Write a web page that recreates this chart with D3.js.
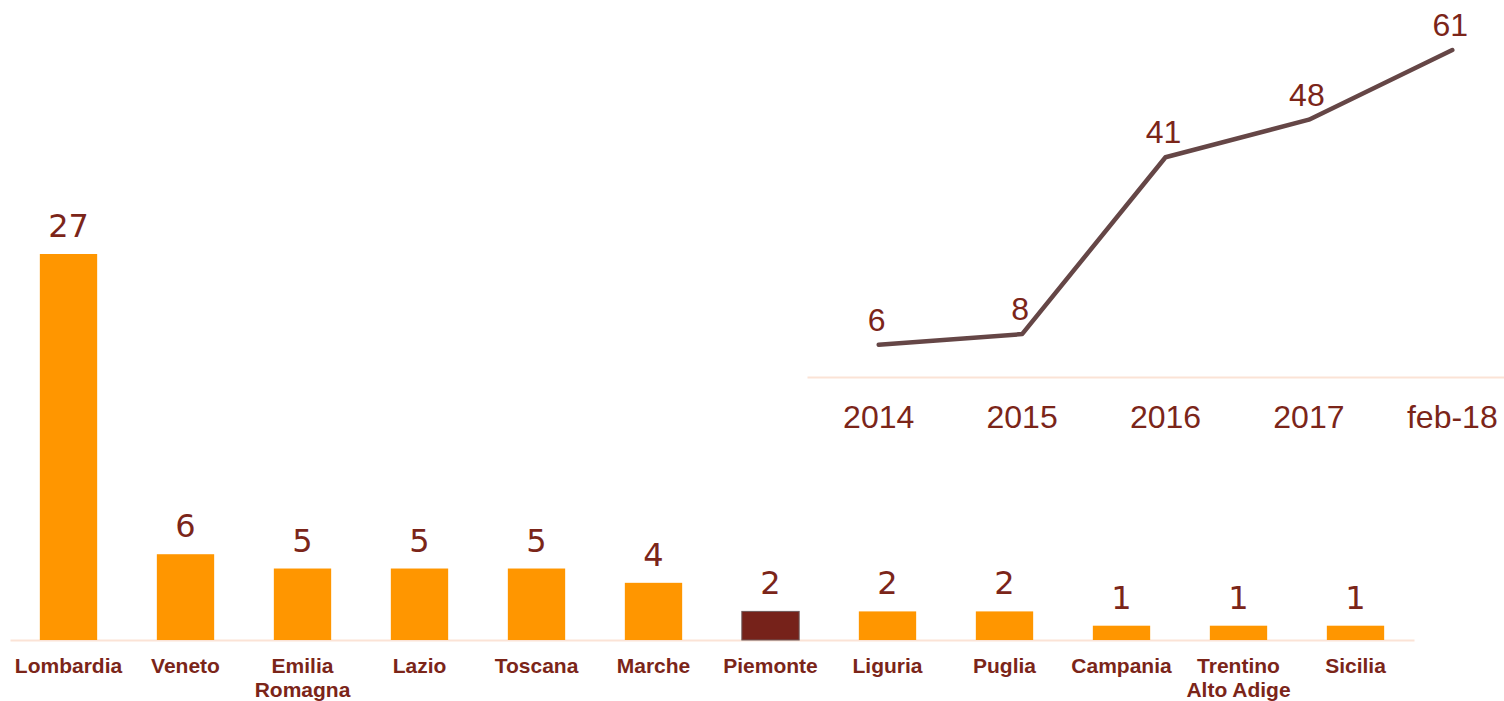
<!DOCTYPE html>
<html>
<head>
<meta charset="utf-8">
<script src="https://cdn.jsdelivr.net/npm/d3@7"></script>
<style>
  html, body { margin: 0; padding: 0; background: #ffffff; }
  svg { display: block; }
</style>
</head>
<body>
<svg id="chart" width="1504" height="701"></svg>
<script>
// ---- Data ----
const regions = ["Lombardia", "Veneto", "Emilia|Romagna", "Lazio", "Toscana", "Marche",
                 "Piemonte", "Liguria", "Puglia", "Campania", "Trentino|Alto Adige", "Sicilia"];
const regionValues = [27, 6, 5, 5, 5, 4, 2, 2, 2, 1, 1, 1];
const highlightRegion = "Piemonte";

const periods = ["2014", "2015", "2016", "2017", "feb-18"];
const periodValues = [6, 8, 41, 48, 61];

// ---- Styles ----
const ORANGE = "#ff9600";
const DARK = "#76221a";
const TEXT = "#7b2519";
const AXIS = "#fbe3d6";
const LINE = "#654646";

const svg = d3.select("#chart");

// ---- Bar chart ----
const xBar = d3.scaleBand().domain(regions).range([10, 1414])
  .paddingInner(0.51).paddingOuter(0.255);
const yBar = d3.scaleLinear().domain([0, 27]).range([640, 254]);

const barAxis = svg.append("g")
  .attr("transform", "translate(0,640)")
  .call(d3.axisBottom(xBar).tickSize(0).tickSizeOuter(0).tickPadding(18));
barAxis.select(".domain").attr("stroke", AXIS).attr("stroke-width", 2);
barAxis.selectAll(".tick text")
  .attr("fill", TEXT)
  .style("font-family", "Liberation Sans, Arial, sans-serif")
  .style("font-weight", "bold")
  .style("font-size", "21px")
  .each(function(d) {
    const t = d3.select(this);
    const parts = d.split("|");
    t.text(null);
    parts.forEach((p, i) => {
      t.append("tspan").attr("x", 0).attr("dy", i === 0 ? "0.71em" : "1.13em").text(p);
    });
  })
  .attr("dy", null);

svg.append("g").selectAll("rect")
  .data(regions)
  .join("rect")
  .attr("x", d => xBar(d))
  .attr("width", xBar.bandwidth())
  .attr("y", (d, i) => yBar(regionValues[i]))
  .attr("height", (d, i) => yBar(0) - yBar(regionValues[i]))
  .attr("fill", d => d === highlightRegion ? DARK : ORANGE)
  .attr("stroke", d => d === highlightRegion ? "#6e5a5a" : "none")
  .attr("stroke-width", 1);

svg.append("g").selectAll("text")
  .data(regions)
  .join("text")
  .attr("x", d => xBar(d) + xBar.bandwidth() / 2)
  .attr("y", (d, i) => yBar(regionValues[i]) - 17)
  .attr("text-anchor", "middle")
  .attr("fill", TEXT)
  .style("font-family", "DejaVu Sans, Verdana, sans-serif")
  .style("font-size", "32px")
  .text((d, i) => regionValues[i]);

// ---- Line chart ----
const xLine = d3.scaleBand().domain(periods).range([807, 1524]);
const yLine = d3.scaleLinear().domain([0, 61]).range([377, 50]);

const lineAxis = svg.append("g")
  .attr("transform", "translate(0,377)")
  .call(d3.axisBottom(xLine).tickSize(0).tickSizeOuter(0).tickPadding(28.5));
lineAxis.select(".domain").attr("stroke", AXIS).attr("stroke-width", 2);
lineAxis.selectAll(".tick text")
  .attr("fill", TEXT)
  .style("font-family", "Liberation Sans, Arial, sans-serif")
  .style("font-size", "32px");

const cx = d => xLine(d) + xLine.bandwidth() / 2;

const line = d3.line()
  .x(d => cx(d))
  .y((d, i) => yLine(periodValues[i]));

svg.append("path")
  .datum(periods)
  .attr("d", line)
  .attr("fill", "none")
  .attr("stroke", LINE)
  .attr("stroke-width", 4.5)
  .attr("stroke-linecap", "round")
  .attr("stroke-linejoin", "round");

svg.append("g").selectAll("text")
  .data(periods)
  .join("text")
  .attr("x", d => cx(d) - 2)
  .attr("y", (d, i) => yLine(periodValues[i]) - 14)
  .attr("text-anchor", "middle")
  .attr("fill", TEXT)
  .style("font-family", "Liberation Sans, Arial, sans-serif")
  .style("font-size", "32px")
  .text((d, i) => periodValues[i]);
</script>
</body>
</html>
